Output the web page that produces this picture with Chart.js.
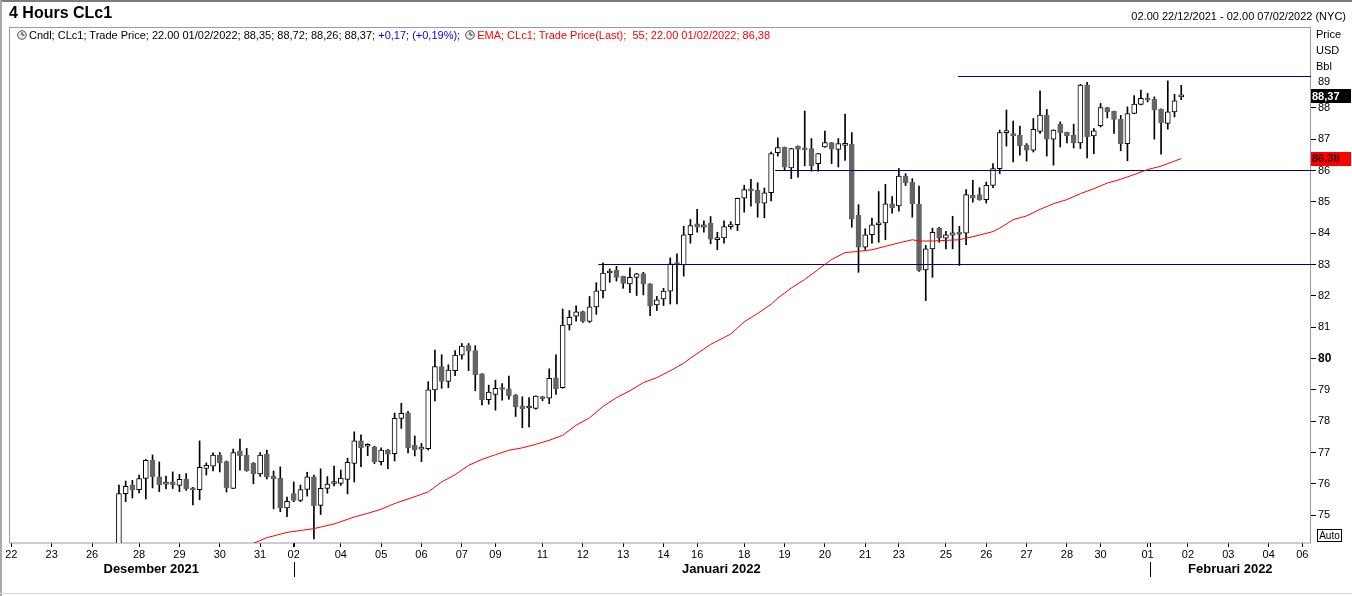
<!DOCTYPE html>
<html>
<head>
<meta charset="utf-8">
<script src="https://cdn.jsdelivr.net/npm/chart.js@4.4.1/dist/chart.umd.min.js"></script>
<style>
html,body{margin:0;padding:0;background:#fff;}
body{width:1352px;height:596px;position:relative;overflow:hidden;font-family:"Liberation Sans",Arial,sans-serif;color:#000;}
#c{position:absolute;left:0;top:0;}
.abs{position:absolute;white-space:pre;}
</style>
</head>
<body>
<canvas id="c" width="1352" height="596"></canvas>
<div class="abs" style="left:0;top:0;width:1352px;height:2px;background:#7c7c7c"></div>
<div class="abs" style="left:0;top:0;width:2px;height:596px;background:#a8a8a8"></div>
<div class="abs" style="left:0;top:593px;width:1352px;height:1px;background:#d8d8d8"></div>
<div class="abs" style="left:9px;top:4px;font-weight:bold;font-size:16px;line-height:18px;">4 Hours CLc1</div>
<div class="abs" style="right:6px;top:10px;font-size:11px;line-height:13px;">02.00 22/12/2021 - 02.00 07/02/2022 (NYC)</div>
<div class="abs" style="left:17px;top:29px;font-size:11px;line-height:13px;"><svg width="10" height="10" style="vertical-align:-1px;margin-right:2px"><circle cx="5" cy="5" r="4.3" fill="#e8e8e8" stroke="#555" stroke-width="1"/><path d="M5 2.2V5H7.4" stroke="#222" stroke-width="1" fill="none"/></svg><span>Cndl; CLc1; Trade Price; 22.00 01/02/2022; 88,35; 88,72; 88,26; 88,37; </span><span style="color:#0000ff">+0,17; (+0,19%);</span><svg width="10" height="10" style="vertical-align:-1px;margin-left:5px;margin-right:2px"><circle cx="5" cy="5" r="4.3" fill="#e8e8e8" stroke="#555" stroke-width="1"/><path d="M5 2.2V5H7.4" stroke="#222" stroke-width="1" fill="none"/></svg><span style="color:#ff0000">EMA; CLc1; Trade Price(Last);  55; 22.00 01/02/2022; 86,38</span></div>
<div class="abs" style="left:1316px;top:26px;font-size:11px;line-height:16px;">Price
USD
Bbl</div>
<div class="abs" style="left:1317px;top:529px;width:23px;height:11px;border:1px solid #000;font-size:10px;line-height:11px;text-align:center;">Auto</div>
<script>
// ---- data (4-hour bars, bar index 0 = first bar of 22/12/2021) ----
const firstBar = 16;
const opens = [73.90,75.69,75.96,75.81,76.17,76.76,76.22,75.99,76.06,75.95,76.14,75.87,75.81,76.49,76.56,76.92,76.71,75.85,77.05,76.92,
76.66,76.32,76.95,76.25,76.18,75.23,75.69,75.47,75.82,76.22,75.31,75.85,76.01,76.01,76.14,76.65,77.37,77.20,77.18,76.71,
77.08,76.96,78.09,78.27,77.23,77.11,77.12,79.00,79.74,79.27,79.61,80.11,80.41,80.25,79.51,78.69,78.85,79.07,79.03,78.84,
78.49,78.42,78.41,78.78,78.73,79.38,79.07,81.07,81.35,81.50,81.18,81.65,82.16,82.73,82.81,82.62,82.38,82.59,82.71,82.38,
81.71,81.90,82.15,83.05,82.99,83.95,84.30,84.19,84.31,83.79,83.85,84.21,84.27,85.12,85.40,85.37,84.96,85.29,86.57,86.74,
86.08,86.78,86.67,86.70,86.22,86.75,86.89,86.67,86.80,86.84,84.57,83.55,83.95,84.27,84.33,84.94,84.87,85.82,85.62,84.92,
82.83,83.50,84.16,83.84,83.94,84.01,84.00,85.21,85.23,85.07,85.52,86.06,87.21,87.18,87.13,86.81,86.65,87.25,87.77,87.00,
87.48,87.22,87.13,86.88,88.73,87.10,87.43,88.01,87.89,87.63,86.86,87.82,88.11,88.30,88.28,87.96,87.50,87.87,88.35];
const highs = [75.96,76.09,76.11,76.28,76.78,76.92,76.70,76.25,76.38,76.30,76.33,75.89,77.37,76.67,76.99,77.00,76.73,77.11,77.43,77.13,
76.68,77.00,77.08,76.41,76.54,75.58,76.06,75.96,76.37,76.28,76.48,76.23,76.57,76.44,76.82,77.66,77.56,77.28,77.20,77.15,
77.10,78.26,78.57,78.31,77.53,77.29,79.26,80.27,80.12,79.80,80.25,80.48,80.48,80.41,79.52,79.15,79.31,79.20,79.44,78.85,
78.78,78.75,78.81,78.79,79.67,80.12,81.58,81.53,81.68,81.51,81.98,82.42,83.05,82.86,82.94,82.63,82.89,82.72,82.75,82.39,
81.98,82.24,83.21,83.34,84.22,84.44,84.76,84.39,84.53,84.03,84.39,84.37,85.12,85.53,85.72,85.61,85.44,86.59,87.04,86.75,
86.71,86.79,87.90,87.02,86.55,87.26,86.90,87.02,87.80,87.21,84.91,84.14,84.48,85.33,85.56,85.17,86.06,85.90,85.74,85.50,
83.61,84.16,84.19,84.06,84.54,84.22,85.39,85.69,85.45,85.63,86.22,87.29,87.93,87.58,87.42,86.86,87.66,88.54,87.95,87.30,
87.55,87.23,87.48,88.75,88.81,87.34,88.14,88.02,87.90,87.76,88.03,88.39,88.57,88.46,88.35,87.97,88.86,88.43,88.72];
const lows = [73.80,75.43,75.55,75.71,75.52,75.87,75.75,75.84,75.85,75.75,75.79,75.33,75.49,76.28,76.41,76.38,75.74,75.85,76.44,76.40,
76.00,76.24,76.16,75.20,75.11,74.95,75.43,75.43,75.61,74.24,75.02,75.70,75.93,75.95,75.68,76.06,76.55,76.90,76.64,76.60,
76.48,76.73,77.77,76.99,76.89,76.71,77.08,78.65,79.05,79.07,79.45,79.98,79.61,78.97,78.52,78.54,78.35,78.67,78.70,78.15,
77.79,77.82,78.38,78.65,78.56,78.85,79.05,80.91,81.19,81.15,81.15,81.41,81.93,82.43,82.47,82.24,82.10,82.01,82.03,81.37,
81.53,81.69,81.74,81.74,82.63,83.68,84.03,84.03,83.66,83.47,83.68,84.13,84.08,84.67,84.86,84.51,84.49,85.03,86.46,86.01,
85.74,85.79,86.15,85.98,85.98,86.74,86.22,86.11,86.32,84.19,82.75,83.48,83.68,83.71,83.79,84.64,84.70,85.52,84.51,82.78,
81.85,82.59,83.71,83.50,83.50,82.97,83.63,84.99,85.05,84.96,85.45,85.90,86.78,86.27,86.49,86.30,86.59,87.18,86.46,86.17,
86.75,86.88,86.72,86.70,86.40,86.54,87.39,87.68,87.18,86.63,86.31,87.81,88.09,88.19,87.00,86.52,87.32,87.71,88.26];
const closes = [75.69,75.92,75.81,76.17,76.75,76.23,75.97,76.02,75.97,76.14,75.84,75.81,76.53,76.59,76.92,76.67,75.87,77.00,76.90,76.42,
76.32,76.92,76.22,76.16,75.23,75.44,75.47,75.82,76.22,75.30,75.86,75.99,76.04,76.18,76.69,77.37,77.15,77.21,76.71,77.08,
76.95,78.09,78.25,77.15,77.08,77.13,79.00,79.74,79.27,79.63,80.11,80.40,80.23,79.48,78.69,78.93,79.05,79.01,78.81,78.46,
78.40,78.43,78.80,78.72,79.37,79.04,81.07,81.31,81.49,81.18,81.65,82.16,82.73,82.74,82.59,82.40,82.59,82.70,82.37,81.67,
81.87,82.15,83.02,83.00,83.95,84.24,84.19,84.27,83.81,83.86,84.21,84.27,85.11,85.39,85.35,84.96,85.29,86.54,86.73,86.11,
86.70,86.67,86.66,86.15,86.54,86.89,86.68,86.86,86.87,84.45,83.55,83.95,84.27,84.33,84.94,84.81,85.82,85.60,84.94,82.81,
83.50,84.03,83.84,83.95,84.01,83.96,85.23,85.12,85.07,85.53,86.06,87.21,87.23,87.11,86.79,86.65,87.31,87.77,87.00,87.29,
87.21,87.11,86.88,88.73,87.07,87.27,88.01,87.87,87.63,86.86,87.82,88.12,88.30,88.25,87.93,87.52,87.87,88.22,88.37];

const emaBars   = [34,36,38,41,45,48,51,53,55,57,60,62,64,66,68,70,72,74,76,78,80,82,84,86,88,90,92,94,96,98,100,101,
104,107,109,111,113,114,116,118,120,122,124,126,128,130,132,134,135,137,139,141,144,146,147,149,151,153,155,157,159,161,163,165,167,169,171,174];
const emaValues = [73.95,74.10,74.28,74.45,74.57,74.72,74.94,75.06,75.19,75.37,75.59,75.74,76.06,76.29,76.59,76.78,76.93,77.07,77.15,77.26,77.39,77.55,77.87,78.11,78.47,78.75,78.97,79.23,79.39,79.61,79.85,80.01,
80.45,80.78,81.17,81.44,81.73,81.93,82.25,82.52,82.84,83.16,83.38,83.42,83.47,83.58,83.69,83.79,83.75,83.75,83.77,83.79,83.94,84.05,84.16,84.43,84.55,84.76,84.94,85.07,85.26,85.42,85.60,85.72,85.87,86.03,86.14,86.38];

const tickBars   = [0,6,12,19,25,31,37,42,49,55,61,67,72,79,85,91,97,102,109,115,121,127,132,139,145,151,157,162,169,175,181,187,192];
const tickLabels = ['22','23','26','28','29','30','31','02','04','05','06','07','09','11','12','13','14','16','18','19','20','21','23','25','26','27','28','30','01','02','03','04','06'];
const monthLabels = ['Desember 2021','Januari 2022','Februari 2022'];
const monthLabelBars = [20.8,105.6,181.3];
const monthBoundaryBars = [42,169.4];
const levelPrices = [89,86,83];
const levelStartBars = [140.8,113.6,87.3];
const yTicks = [75,76,77,78,79,80,81,82,83,84,85,86,87,88,89];
const xMin = -0.35, xMax = 193.3, yMin = 74.1117, yMax = 90.5798;

// ---- build datasets ----
const FONT = '"Liberation Sans", Arial, sans-serif';
Chart.defaults.font.family = FONT;
const bodyData = opens.map((o,i)=>({x:firstBar+i, y:[o, closes[i]]}));
const wickData = lows.map((l,i)=>({x:firstBar+i, y:[l, highs[i]]}));
const bodyFill = opens.map((o,i)=> closes[i] >= o ? '#ffffff' : '#646464');
const bodyEdge = opens.map((o,i)=> closes[i] >= o ? '#000000' : '#646464');
const emaData = emaBars.map((b,i)=>({x:b, y:emaValues[i]}));
const levelSets = levelPrices.map((p,i)=>({
  type:'line', data:[{x:levelStartBars[i], y:p},{x:xMax, y:p}],
  borderColor:'#000080', borderWidth:1, pointRadius:0, order:0
}));
const fmt = v => v.toFixed(2).replace('.', ',');
const topTick = yTicks[yTicks.length-1];

const framePlugin = {
  id:'frame',
  beforeDatasetsDraw(chart){
    const {ctx, chartArea:a} = chart;
    ctx.save();
    ctx.strokeStyle = '#9a9aae'; ctx.lineWidth = 1;
    ctx.strokeRect(a.left+0.5, a.top+0.5, a.right-a.left-1, a.bottom-a.top-0.5);
    ctx.restore();
  },
  afterDraw(chart){
    const {ctx, chartArea:a, scales:{x, y}} = chart;
    ctx.save();
    // month labels and boundaries
    ctx.fillStyle = '#000'; ctx.font = 'bold 13px ' + FONT;
    ctx.textAlign = 'center'; ctx.textBaseline = 'middle';
    monthLabels.forEach((m,i)=> ctx.fillText(m, x.getPixelForValue(monthLabelBars[i]), 569));
    ctx.strokeStyle = '#000'; ctx.lineWidth = 1;
    monthBoundaryBars.forEach(b=>{
      const px = Math.round(x.getPixelForValue(b)) + 0.5;
      ctx.beginPath(); ctx.moveTo(px, 562); ctx.lineTo(px, 577); ctx.stroke();
      ctx.beginPath(); ctx.moveTo(px, a.bottom); ctx.lineTo(px, a.bottom+4); ctx.stroke();
    });
    // top price label sits just below its level
    ctx.font = '11px ' + FONT; ctx.textAlign = 'left'; ctx.textBaseline = 'middle';
    ctx.fillText(String(topTick), a.right + 7, y.getPixelForValue(topTick) + 5.5);
    // last value tags on price axis
    const tag = (val, bg, fg) => {
      const py = y.getPixelForValue(val);
      ctx.fillStyle = bg; ctx.fillRect(a.right, Math.round(py)-7, 40, 14);
      ctx.fillStyle = fg; ctx.font = 'bold 11px ' + FONT;
      ctx.textAlign = 'left'; ctx.textBaseline = 'middle';
      ctx.fillText(fmt(val), a.right+1, py+0.5);
    };
    tag(emaValues[emaValues.length-1], '#ff0000', '#3a0000');
    tag(closes[closes.length-1], '#000000', '#ffffff');
    ctx.restore();
  }
};

new Chart(document.getElementById('c'), {
  type:'bar',
  data:{ datasets:[
    { label:'body', data:bodyData, backgroundColor:bodyFill, borderColor:bodyEdge, borderWidth:1,
      borderSkipped:false, barThickness:5, minBarLength:2, grouped:false, order:1 },
    { label:'wick', data:wickData, backgroundColor:'#000', borderWidth:0,
      barThickness:1, grouped:false, order:2 },
    { type:'line', label:'EMA', data:emaData, borderColor:'#ff0000', borderWidth:1, pointRadius:0, tension:0, order:0 },
    ...levelSets
  ]},
  options:{
    responsive:false, animation:false,
    layout:{ padding:{ top:27, left:9, right:0, bottom:0 } },
    plugins:{ legend:{display:false}, tooltip:{enabled:false} },
    events:[],
    scales:{
      x:{
        type:'linear', min:xMin, max:xMax, offset:false,
        afterBuildTicks: s => { s.ticks = tickBars.map(v=>({value:v})); },
        afterFit: s => { s.height = 53; },
        ticks:{ autoSkip:false, maxRotation:0, minRotation:0, padding:1, color:'#000',
          font:{ size:11 }, callback:(v,i)=>tickLabels[i] },
        grid:{ display:true, drawOnChartArea:false, drawTicks:true, tickLength:4, color:'#000', offset:false },
        border:{ display:false }
      },
      y:{
        type:'linear', position:'right', min:yMin, max:yMax,
        afterBuildTicks: s => { s.ticks = yTicks.map(v=>({value:v})); },
        afterFit: s => { s.width = 41; },
        ticks:{ padding:2, color:'#000', callback:v => (v === topTick ? '' : String(v)),
          font: c => (c.tick && c.tick.value === 80) ? {size:12, weight:'bold'} : {size:11, weight:'normal'} },
        grid:{ display:true, drawOnChartArea:false, drawTicks:true, tickLength:5,
          color: c => (c.tick && c.tick.value === topTick) ? 'rgba(0,0,0,0)' : '#000' },
        border:{ display:false }
      }
    }
  },
  plugins:[framePlugin]
});
</script>
</body>
</html>
